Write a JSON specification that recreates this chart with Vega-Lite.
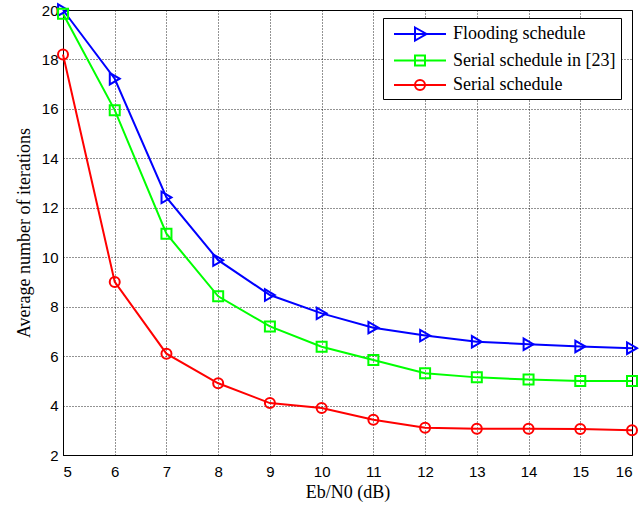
{
  "$schema": "https://vega.github.io/schema/vega-lite/v6.json",
  "width": 569,
  "height": 445,
  "autosize": {"type": "none"},
  "padding": {"left": 63, "top": 10, "right": 8, "bottom": 51},
  "background": "white",
  "config": {
    "view": {"stroke": "#000", "strokeWidth": 1},
    "axis": {
      "labelFont": "Liberation Sans",
      "labelFontSize": 15,
      "labelColor": "#000",
      "titleFont": "Liberation Serif",
      "titleFontSize": 18,
      "titleFontWeight": "normal",
      "titleColor": "#000",
      "domainColor": "#000",
      "tickColor": "#000",
      "ticks": false,
      "grid": true,
      "gridColor": "#000",
      "gridDash": [1, 2],
      "gridOpacity": 0.85
    }
  },
  "data": {
    "values": [
      {"x": 5, "y": 20.0, "s": "Flooding schedule"},
      {"x": 6, "y": 17.22, "s": "Flooding schedule"},
      {"x": 7, "y": 12.42, "s": "Flooding schedule"},
      {"x": 8, "y": 9.88, "s": "Flooding schedule"},
      {"x": 9, "y": 8.47, "s": "Flooding schedule"},
      {"x": 10, "y": 7.73, "s": "Flooding schedule"},
      {"x": 11, "y": 7.15, "s": "Flooding schedule"},
      {"x": 12, "y": 6.83, "s": "Flooding schedule"},
      {"x": 13, "y": 6.58, "s": "Flooding schedule"},
      {"x": 14, "y": 6.48, "s": "Flooding schedule"},
      {"x": 15, "y": 6.39, "s": "Flooding schedule"},
      {"x": 16, "y": 6.32, "s": "Flooding schedule"},
      {"x": 5, "y": 19.85, "s": "Serial schedule in [23]"},
      {"x": 6, "y": 15.95, "s": "Serial schedule in [23]"},
      {"x": 7, "y": 10.95, "s": "Serial schedule in [23]"},
      {"x": 8, "y": 8.42, "s": "Serial schedule in [23]"},
      {"x": 9, "y": 7.2, "s": "Serial schedule in [23]"},
      {"x": 10, "y": 6.38, "s": "Serial schedule in [23]"},
      {"x": 11, "y": 5.84, "s": "Serial schedule in [23]"},
      {"x": 12, "y": 5.31, "s": "Serial schedule in [23]"},
      {"x": 13, "y": 5.14, "s": "Serial schedule in [23]"},
      {"x": 14, "y": 5.05, "s": "Serial schedule in [23]"},
      {"x": 15, "y": 4.99, "s": "Serial schedule in [23]"},
      {"x": 16, "y": 4.99, "s": "Serial schedule in [23]"},
      {"x": 5, "y": 18.2, "s": "Serial schedule"},
      {"x": 6, "y": 9.0, "s": "Serial schedule"},
      {"x": 7, "y": 6.1, "s": "Serial schedule"},
      {"x": 8, "y": 4.9, "s": "Serial schedule"},
      {"x": 9, "y": 4.1, "s": "Serial schedule"},
      {"x": 10, "y": 3.9, "s": "Serial schedule"},
      {"x": 11, "y": 3.43, "s": "Serial schedule"},
      {"x": 12, "y": 3.1, "s": "Serial schedule"},
      {"x": 13, "y": 3.06, "s": "Serial schedule"},
      {"x": 14, "y": 3.06, "s": "Serial schedule"},
      {"x": 15, "y": 3.05, "s": "Serial schedule"},
      {"x": 16, "y": 3.0, "s": "Serial schedule"}
    ]
  },
  "encoding": {
    "x": {
      "field": "x", "type": "quantitative",
      "scale": {"domain": [5, 16], "nice": false, "zero": false},
      "axis": {"values": [5,6,7,8,9,10,11,12,13,14,15,16], "title": "Eb/N0 (dB)", "labelPadding": 9, "titlePadding": 4}
    },
    "y": {
      "field": "y", "type": "quantitative",
      "scale": {"domain": [2, 20], "nice": false, "zero": false},
      "axis": {"values": [2,4,6,8,10,12,14,16,18,20], "title": "Average number of iterations", "labelPadding": 5, "titlePadding": 8}
    },
    "color": {
      "field": "s", "type": "nominal",
      "scale": {
        "domain": ["Flooding schedule", "Serial schedule in [23]", "Serial schedule"],
        "range": ["#0000ff", "#00ff00", "#ff0000"]
      },
      "legend": {
        "title": null,
        "orient": "none",
        "legendX": 320,
        "legendY": 8,
        "padding": 5,
        "strokeColor": "#000",
        "fillColor": "#fff",
        "labelFont": "Liberation Serif",
        "labelFontSize": 18,
        "labelColor": "#000",
        "labelLimit": 400,
        "labelOffset": 43,
        "rowPadding": 4.5,
        "symbolSize": 400,
        "symbolStrokeWidth": 2,
        "symbolFillColor": "transparent",
        "encode": {
          "symbols": {
            "update": {
              "shape": {"signal": "datum.value == 'Flooding schedule' ? 'M-0.5,0L4.7,0M1.6,-0.65L2.75,0L1.6,0.65Z' : datum.value == 'Serial schedule in [23]' ? 'M-0.5,0L4.7,0M1.6,-0.5L2.6,-0.5L2.6,0.5L1.6,0.5Z' : 'M-0.5,0L4.7,0M1.6,0A0.5,0.5 0 1,1 2.6,0A0.5,0.5 0 1,1 1.6,0'"},
              "fill": {"value": "transparent"},
              "strokeWidth": {"value": 2}
            }
          }
        }
      }
    }
  },
  "layer": [
    {"mark": {"type": "line", "strokeWidth": 2, "clip": false}},
    {
      "transform": [{"filter": {"field": "s", "equal": "Flooding schedule"}}],
      "mark": {"type": "point", "shape": "triangle-right", "size": 130, "filled": false, "strokeWidth": 2, "opacity": 1, "clip": false}
    },
    {
      "transform": [{"filter": {"field": "s", "equal": "Serial schedule in [23]"}}],
      "mark": {"type": "point", "shape": "square", "size": 100, "filled": false, "strokeWidth": 2, "opacity": 1, "clip": false}
    },
    {
      "transform": [{"filter": {"field": "s", "equal": "Serial schedule"}}],
      "mark": {"type": "point", "shape": "circle", "size": 100, "filled": false, "strokeWidth": 2, "opacity": 1, "clip": false}
    }
  ]
}
